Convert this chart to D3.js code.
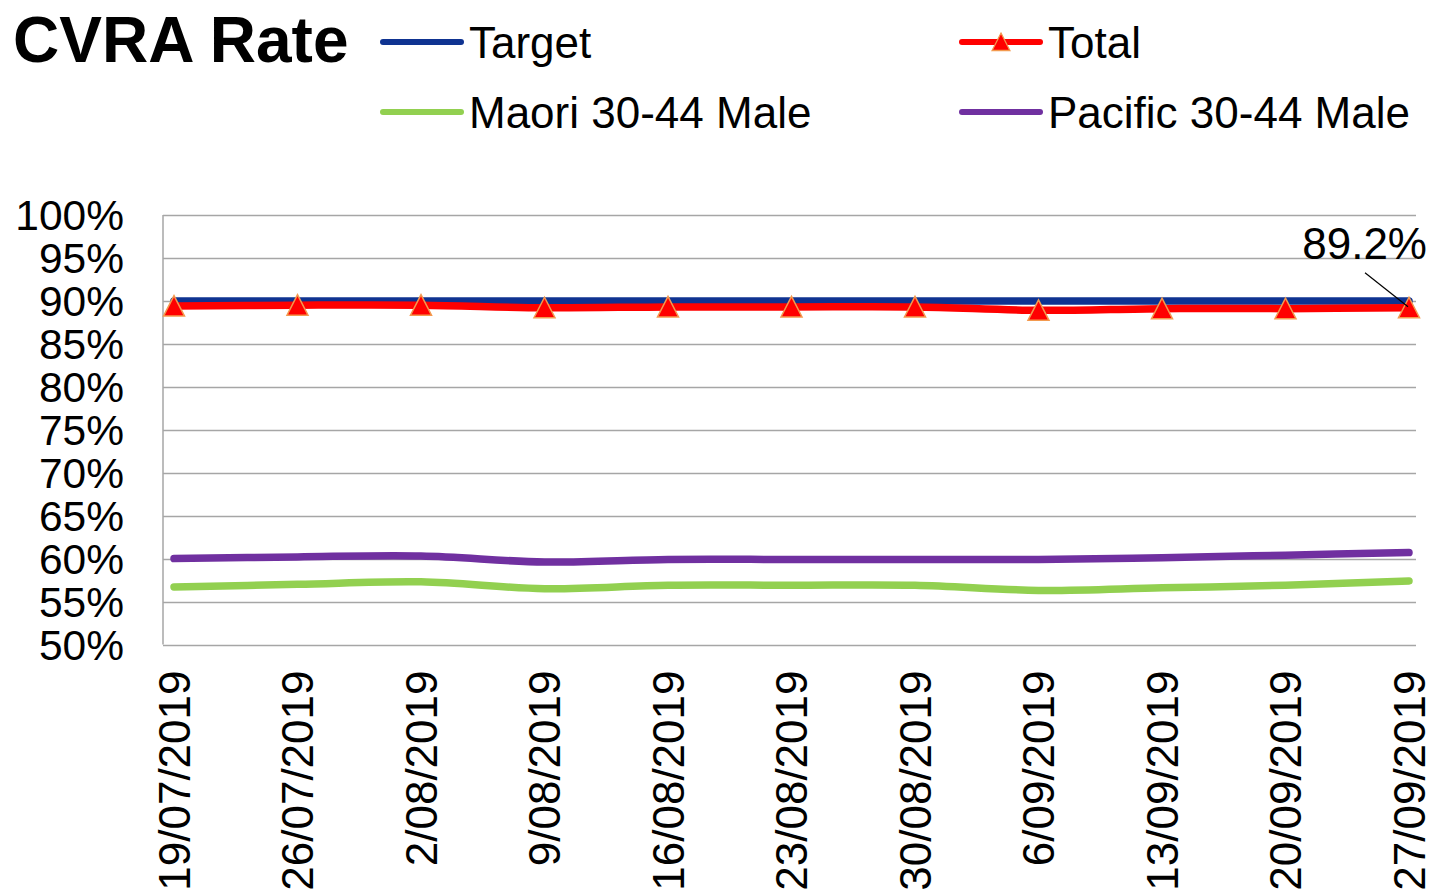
<!DOCTYPE html>
<html>
<head>
<meta charset="utf-8">
<script src="https://cdn.jsdelivr.net/npm/d3@7"></script>
<style>
  body { margin: 0; background: #fff; }
  text { font-family: "Liberation Sans", Arial, sans-serif; fill: #000; }
</style>
</head>
<body>
<div id="chart"></div>
<script>
// weekly CVRA rate values
var dates = ["19/07/2019", "26/07/2019", "2/08/2019", "9/08/2019", "16/08/2019", "23/08/2019",
             "30/08/2019", "6/09/2019", "13/09/2019", "20/09/2019", "27/09/2019"];
var target  = [0.90, 0.90, 0.90, 0.90, 0.90, 0.90, 0.90, 0.90, 0.90, 0.90, 0.90];
var total   = [0.894, 0.895, 0.895, 0.892, 0.893, 0.893, 0.893, 0.889, 0.891, 0.891, 0.892];
var maori   = [0.567, 0.570, 0.573, 0.565, 0.569, 0.569, 0.569, 0.563, 0.566, 0.569, 0.574];
var pacific = [0.600, 0.602, 0.603, 0.596, 0.599, 0.599, 0.599, 0.599, 0.601, 0.604, 0.607];
var yTicks  = [0.50, 0.55, 0.60, 0.65, 0.70, 0.75, 0.80, 0.85, 0.90, 0.95, 1.00];

var W = 1432, H = 896;
var plotLeft = 163, plotRight = 1416, plotTop = 215, plotBottom = 644.5;

var svg = d3.select("#chart").append("svg")
    .attr("width", W)
    .attr("height", H);

var x = d3.scalePoint()
    .domain(dates)
    .range([plotLeft + 11, plotRight - 7]);

var y = d3.scaleLinear()
    .domain([0.5, 1])
    .range([plotBottom, plotTop]);

var pct = d3.format(".0%");

// gridlines
svg.append("g").selectAll("line")
    .data(yTicks).enter().append("line")
    .attr("x1", plotLeft)
    .attr("x2", plotRight)
    .attr("y1", function(d){ return Math.round(y(d)) + 0.5; })
    .attr("y2", function(d){ return Math.round(y(d)) + 0.5; })
    .attr("stroke", "#a6a6a6")
    .attr("stroke-width", 1.5);

// left axis line
svg.append("line")
    .attr("x1", plotLeft).attr("x2", plotLeft)
    .attr("y1", y(1)).attr("y2", y(0.5))
    .attr("stroke", "#a6a6a6")
    .attr("stroke-width", 1.5);

// y labels
svg.append("g").selectAll("text")
    .data(yTicks).enter().append("text")
    .attr("x", 124)
    .attr("y", function(d){ return y(d); })
    .attr("dy", "0.36em")
    .attr("text-anchor", "end")
    .style("font-size", "42.5px")
    .text(pct);

// x labels, rotated
svg.append("g").selectAll("text")
    .data(dates).enter().append("text")
    .attr("transform", function(d){ return "translate(" + x(d) + "," + (plotBottom + 26) + ") rotate(-90)"; })
    .attr("dy", "0.36em")
    .attr("text-anchor", "end")
    .style("font-size", "44px")
    .text(function(d){ return d; });

var line = d3.line()
    .x(function(d, i){ return x(dates[i]); })
    .y(function(d){ return y(d); })
    .curve(d3.curveCatmullRom.alpha(0.5));

var series = [
    {name: "Maori 30-44 Male",   data: maori,   color: "#92d050"},
    {name: "Pacific 30-44 Male", data: pacific, color: "#7030a0"},
    {name: "Target",             data: target,  color: "#0f3391"},
    {name: "Total",              data: total,   color: "#ff0000"}
];

series.forEach(function(s){
    svg.append("path")
        .datum(s.data)
        .attr("d", line)
        .attr("fill", "none")
        .attr("stroke", s.color)
        .attr("stroke-width", 7.5)
        .attr("stroke-linecap", "round")
        .attr("stroke-linejoin", "round");
});

// triangle markers for Total
var tri = "M0,-10.5L10.5,10L-10.5,10Z";
svg.append("g").selectAll("path")
    .data(total).enter().append("path")
    .attr("transform", function(d, i){ return "translate(" + x(dates[i]) + "," + y(d) + ")"; })
    .attr("d", tri)
    .attr("fill", "#ff0000")
    .attr("stroke", "#f39a4f")
    .attr("stroke-width", 1.5);

// data label on the last Total point
var last = total.length - 1;
var lx = x(dates[last]), ly = y(total[last]);
svg.append("line")
    .attr("x1", lx - 44).attr("y1", ly - 35)
    .attr("x2", lx - 1).attr("y2", ly - 1)
    .attr("stroke", "#000")
    .attr("stroke-width", 1.2);
svg.append("text")
    .attr("x", lx + 18)
    .attr("y", ly - 49)
    .attr("text-anchor", "end")
    .style("font-size", "44px")
    .text(d3.format(".1%")(total[last]));

// title
svg.append("text")
    .attr("x", 13)
    .attr("y", 62)
    .style("font-size", "64px")
    .style("font-weight", "bold")
    .text("CVRA Rate");

// legend
var legend = [
    {name: "Target",             color: "#0f3391", marker: false, lx: 381, ly: 42},
    {name: "Total",              color: "#ff0000", marker: true,  lx: 960, ly: 42},
    {name: "Maori 30-44 Male",   color: "#92d050", marker: false, lx: 381, ly: 112},
    {name: "Pacific 30-44 Male", color: "#7030a0", marker: false, lx: 960, ly: 112}
];

var lg = svg.append("g").selectAll("g")
    .data(legend).enter().append("g")
    .attr("transform", function(d){ return "translate(" + d.lx + "," + d.ly + ")"; });

lg.append("line")
    .attr("x1", 2).attr("x2", 80)
    .attr("stroke", function(d){ return d.color; })
    .attr("stroke-width", 6)
    .attr("stroke-linecap", "round");

lg.filter(function(d){ return d.marker; }).append("path")
    .attr("transform", "translate(41,0) scale(0.85)")
    .attr("d", tri)
    .attr("fill", "#ff0000")
    .attr("stroke", "#f39a4f")
    .attr("stroke-width", 1.5);

lg.append("text")
    .attr("x", 88)
    .attr("dy", "0.36em")
    .style("font-size", "44px")
    .text(function(d){ return d.name; });
</script>
</body>
</html>
